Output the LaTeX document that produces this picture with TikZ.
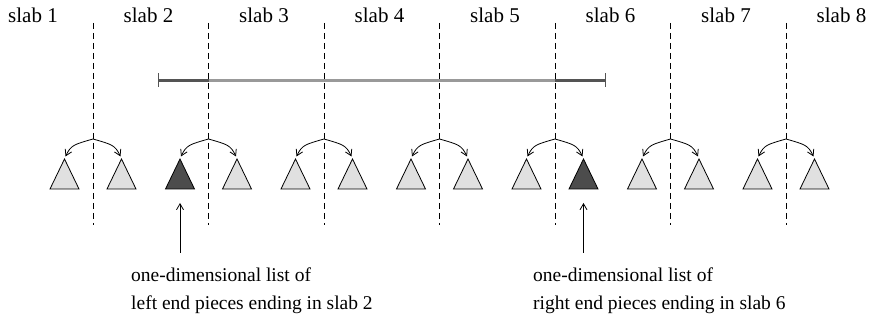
\documentclass[tikz,border=0pt]{standalone}
\usepackage{fontspec}
\setmainfont{Liberation Serif}
\usetikzlibrary{arrows.meta}
\definecolor{lightfill}{gray}{0.88}
\definecolor{darkfill}{gray}{0.30}
\definecolor{segdark}{gray}{0.33}
\definecolor{seglight}{gray}{0.60}
\begin{document}
\begin{tikzpicture}[x=1pt,y=-1pt,
  slabline/.style={dash pattern=on 6pt off 4pt, line width=0.9pt},
  tri/.style={draw, line width=0.8pt, line join=miter},
  ptr/.style={line width=0.8pt, -{Straight Barb[length=6pt,width=7pt]}},
  slablbl/.style={font=\fontsize{21}{24}\selectfont, anchor=base, inner sep=0pt},
  notelbl/.style={font=\fontsize{19.5}{24}\selectfont, anchor=base west, inner sep=0pt},
  seg/.style={line width=3.5pt, line cap=butt}]
\useasboundingbox (0,0) rectangle (871,320);

% slab labels
\foreach \i in {1,...,8}{
  \node[slablbl] (s\i) at ({33+115.5*(\i-1)},23) {slab \i};
}

% slab boundaries, tree roots, children
\foreach \i [evaluate=\i as \x using {93+115.5*(\i-1)}] in {1,...,7}{
  \coordinate (top\i) at (\x,23);
  \coordinate (bot\i) at (\x,225);
  \draw[slabline] (top\i) -- (bot\i);
  \coordinate (p\i) at (\x,139);
  \coordinate (l\i) at (\x-28.5,159);
  \coordinate (r\i) at (\x+28.5,159);
  \coordinate (le\i) at (\x-27.5,156.5);
  \coordinate (re\i) at (\x+27.5,156.5);
  \draw[ptr] (p\i) .. controls (\x-19,144.5) and (\x-22,145) .. (le\i);
  \draw[ptr] (p\i) .. controls (\x+19,144.5) and (\x+22,145) .. (re\i);
}

% triangles
\foreach \i/\lc/\rc in {1/lightfill/lightfill,2/darkfill/lightfill,3/lightfill/lightfill,4/lightfill/lightfill,5/lightfill/darkfill,6/lightfill/lightfill,7/lightfill/lightfill}{
  \draw[tri, fill=\lc] (l\i) -- ++(-14.5,30) -- ++(29,0) -- cycle;
  \draw[tri, fill=\rc] (r\i) -- ++(-14.5,30) -- ++(29,0) -- cycle;
}

% query segment
\coordinate (sa) at (158,80.5);
\coordinate (sb) at (208.5,80.5);
\coordinate (sc) at (555,80.5);
\coordinate (sd) at (605.5,80.5);
\draw[seg, seglight] (sb) -- (sc);
\draw[seg, segdark] (sa) -- (sb);
\draw[seg, segdark] (sc) -- (sd);
\draw[segdark, line width=1pt] (158,73.5) -- (158,87);
\draw[segdark, line width=1pt] (605.5,73.5) -- (605.5,87);

% annotation arrows
\coordinate (u1) at (180,253);
\coordinate (u2) at (583.5,253);
\draw[ptr] (u1) -- (180,203);
\draw[ptr] (u2) -- (583.5,203);

% annotations
\node[notelbl] (t1) at (131,281.5) {one-dimensional list of};
\node[notelbl] (t2) at (131,309.5) {left end pieces ending in slab 2};
\node[notelbl] (t3) at (533,281.5) {one-dimensional list of};
\node[notelbl] (t4) at (533,309.5) {right end pieces ending in slab 6};
\end{tikzpicture}
\end{document}
